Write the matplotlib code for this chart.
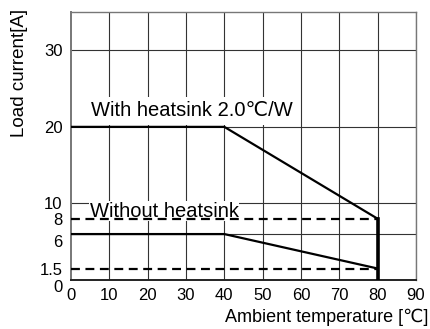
import matplotlib
matplotlib.use("Agg")
import matplotlib.pyplot as plt
from matplotlib.transforms import ScaledTranslation

plt.rcParams['font.family'] = ['Liberation Sans', 'DejaVu Sans']

# derating curves (ambient temp in C, load current in A)
temp_with = [0, 40, 80]
curr_with = [20, 20, 8]
temp_without = [0, 40, 80]
curr_without = [6, 6, 1.5]
temp_dash = [0, 80]
dash_hi = [8, 8]
dash_lo = [1.5, 1.5]
cutoff_temp = [80, 80]
cutoff_curr = [0, 8]

xticks = [0, 10, 20, 30, 40, 50, 60, 70, 80, 90]
yticks = [0, 1.5, 6, 8, 10, 20, 30]
ylabels = ['0', '1.5', '6', '8', '10', '20', '30']
ygrid = [6, 10, 20, 30]

fig = plt.figure(figsize=(4.31, 3.29), dpi=100)
ax = fig.add_axes([0.1647, 0.1489, 0.8005, 0.8146])

for x in xticks[1:]:
    ax.axvline(x, color='#333333', lw=0.8, zorder=1)
for y in ygrid:
    ax.axhline(y, color='#333333', lw=0.8, zorder=1)

ax.plot(temp_with, curr_with, color='black', lw=1.6, zorder=4)
ax.plot(temp_without, curr_without, color='black', lw=1.6, zorder=4)
ax.plot(temp_dash, dash_hi, color='black', lw=1.6, ls=(0, (4, 2.5)), zorder=4)
ax.plot(temp_dash, dash_lo, color='black', lw=1.6, ls=(0, (4, 2.5)), zorder=4)
ax.plot(cutoff_temp, cutoff_curr, color='black', lw=2.6, zorder=4)

ax.text(5.3, 22.1, "With heatsink 2.0\u2103/W", fontsize=14.5, va='center', ha='left',
        zorder=3, bbox=dict(facecolor='white', edgecolor='none', pad=3))
ax.text(4.9, 9.0, "Without heatsink", fontsize=14.5, va='center', ha='left',
        zorder=3, bbox=dict(facecolor='white', edgecolor='none', pad=0.3))

ax.set_xlim(0, 90)
ax.set_ylim(0, 35)
ax.set_xticks(xticks)
ax.set_xticklabels([str(v) for v in xticks])
ax.set_yticks(yticks)
ax.set_yticklabels(ylabels)
ax.tick_params(length=0, labelsize=12, pad=6)

# nudge crowded y labels like the original
ylab = ax.get_yticklabels()
ylab[0].set_transform(ylab[0].get_transform() + ScaledTranslation(0, -4 / 72, fig.dpi_scale_trans))
ylab[2].set_transform(ylab[2].get_transform() + ScaledTranslation(0, -5 / 72, fig.dpi_scale_trans))

for s in ax.spines.values():
    s.set_color('#777777')
    s.set_linewidth(1.0)
ax.spines['left'].set_linewidth(1.4)
ax.spines['bottom'].set_color('#222222')
ax.spines['bottom'].set_linewidth(1.4)

ax.set_xlabel("Ambient temperature [\u2103]", fontsize=13, loc='right', labelpad=4)
ax.xaxis.label.set_x(1.035)
ax.set_ylabel("Load current[A]", fontsize=13.5, loc='top')
ax.yaxis.set_label_coords(-0.125, 1.01)

fig.savefig("out.png", dpi=100)
